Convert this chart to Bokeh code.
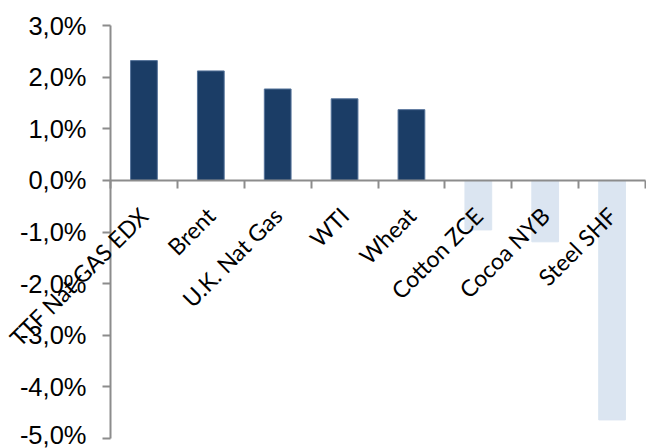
import math
from bokeh.plotting import figure
from bokeh.models import (Range1d, LinearAxis, FixedTicker,
                          CustomJSTickFormatter, ColumnDataSource, LabelSet)
from bokeh.core.properties import value
from bokeh.embed import file_html
from bokeh.resources import INLINE

categories = ["TTF Nat GAS EDX", "Brent", "U.K. Nat Gas", "WTI", "Wheat",
              "Cotton ZCE", "Cocoa NYB", "Steel SHF"]
values = [2.32, 2.12, 1.77, 1.58, 1.37, -0.96, -1.19, -4.64]
y_ticks = [-5, -4, -3, -2, -1, 0, 1, 2, 3]

POS_COLOR = "#1b3d66"
POS_EDGE = "#55739a"
NEG_COLOR = "#dbe5f1"
AXIS_COLOR = "#8c8c8c"

W, H = 646, 448
n = len(categories)
# pixel layout of the plotting area inside the canvas
LEFT, RIGHT, TOP, BOTTOM = 110, 645, 25, 438
ymin, ymax = y_ticks[0], y_ticks[-1]
px_x = (RIGHT - LEFT) / n
px_y = (BOTTOM - TOP) / (ymax - ymin)

src = ColumnDataSource(dict(
    pos=[i + 0.5 for i in range(n)],
    cat=categories,
    val=values,
    zero=[0] * n,
    color=[POS_COLOR if v >= 0 else NEG_COLOR for v in values],
    edge=[POS_EDGE if v >= 0 else NEG_COLOR for v in values],
))

p = figure(x_range=Range1d(-LEFT / px_x, n + (W - RIGHT) / px_x),
           y_range=Range1d(ymin - (H - BOTTOM) / px_y, ymax + TOP / px_y),
           width=W, height=H,
           x_axis_location=None, y_axis_location=None,
           output_backend="svg", toolbar_location=None,
           min_border=0)
p.outline_line_color = None
p.grid.visible = False

p.vbar(x="pos", top="val", bottom=0, width=0.4, fill_color="color",
       line_color="edge", line_width=1, source=src)

# Y axis
yaxis = LinearAxis(fixed_location=0, bounds=(ymin, ymax),
                   ticker=FixedTicker(ticks=y_ticks),
                   formatter=CustomJSTickFormatter(
                       code="return tick.toFixed(1).replace('.', ',') + '%';"),
                   major_label_text_font="Liberation Sans",
                   major_label_text_font_size="25.5px",
                   major_label_text_color="#000000",
                   axis_line_color=AXIS_COLOR, axis_line_width=2,
                   major_tick_line_color=AXIS_COLOR, major_tick_line_width=2,
                   major_tick_out=8, major_tick_in=0,
                   minor_tick_line_color=None, major_label_standoff=16)
p.add_layout(yaxis, "left")

# X axis line crossing at zero, ticks at the category boundaries
xaxis = LinearAxis(fixed_location=0, bounds=(0, n),
                   ticker=FixedTicker(ticks=list(range(n + 1))),
                   formatter=CustomJSTickFormatter(code="return '';"),
                   axis_line_color=AXIS_COLOR, axis_line_width=2,
                   major_tick_line_color=AXIS_COLOR, major_tick_line_width=2,
                   major_tick_out=8, major_tick_in=0,
                   minor_tick_line_color=None)
p.add_layout(xaxis, "below")

labels = LabelSet(x="pos", y="zero", text="cat", source=src,
                  angle=math.pi / 4, text_align="right", text_baseline="middle",
                  x_offset=0, y_offset=-31,
                  text_font=value("Lato"), text_font_size=value("23px"),
                  text_color="#000000")
p.add_layout(labels)

open("out.html", "w").write(file_html(p, INLINE))
